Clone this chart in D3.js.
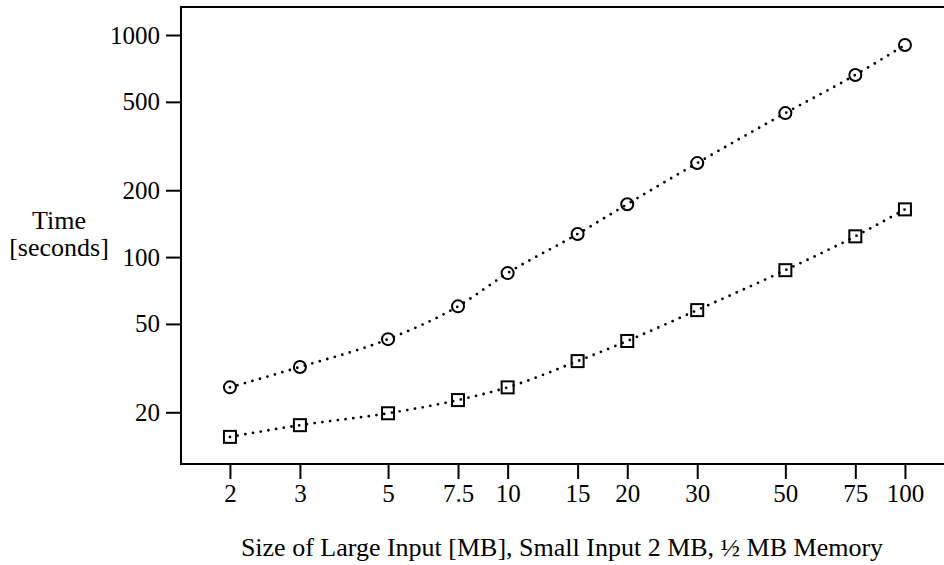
<!DOCTYPE html>
<html>
<head>
<meta charset="utf-8">
<script src="https://cdn.jsdelivr.net/npm/d3@7"></script>
<style>
  body { margin: 0; background: #fff; }
  svg text { font-family: "Liberation Serif", "DejaVu Serif", serif; fill: #000; }
</style>
</head>
<body>
<div id="chart"></div>
<script>
// input sizes (MB), log axis
var sizes = [2, 3, 5, 7.5, 10, 15, 20, 30, 50, 75, 100];
// time in seconds
var circleTimes = [25.9, 32, 42.7, 60, 84.7, 127, 173, 265, 445, 661, 902];
var squareTimes = [15.5, 17.5, 19.8, 22.7, 25.9, 34, 41.9, 57.7, 87.3, 124, 164];
var xTicks = [2, 3, 5, 7.5, 10, 15, 20, 30, 50, 75, 100];
var yTicks = [20, 50, 100, 200, 500, 1000];

var width = 944, height = 565;
var margin = {top: 7, right: -10, bottom: 101, left: 181};

var svg = d3.select("#chart").append("svg")
    .attr("width", width)
    .attr("height", height);

var x = d3.scaleLog()
    .domain([1.506, 125.4])
    .range([margin.left, width]);

var y = d3.scaleLog()
    .domain([11.7, 1337])
    .range([height - margin.bottom, margin.top]);

// frame (right side runs off the page)
svg.append("path")
    .attr("d", "M" + (width + 5) + "," + margin.top + "H" + margin.left +
          "V" + (height - margin.bottom) + "H" + (width + 5))
    .attr("fill", "none")
    .attr("stroke", "#000")
    .attr("stroke-width", 2);

var xAxis = svg.append("g")
    .attr("transform", "translate(0," + (height - margin.bottom) + ")")
    .call(d3.axisBottom(x).tickValues(xTicks).tickFormat(function(d){ return d; })
      .tickSize(15).tickPadding(5));
xAxis.select(".domain").remove();
xAxis.selectAll("line").attr("stroke-width", 2);
xAxis.selectAll("text").style("font-size", "25px").style("font-family", "Liberation Serif");

var yAxis = svg.append("g")
    .attr("transform", "translate(" + margin.left + ",0)")
    .call(d3.axisLeft(y).tickValues(yTicks).tickFormat(function(d){ return d; })
      .tickSize(15).tickPadding(6));
yAxis.select(".domain").remove();
yAxis.selectAll("line").attr("stroke-width", 2);
yAxis.selectAll("text").style("font-size", "25px").style("font-family", "Liberation Serif");

var line = d3.line()
    .x(function(d){ return x(d[0]); })
    .y(function(d){ return y(d[1]); })
    .curve(d3.curveMonotoneX);

function series(vals){
  return sizes.map(function(s, i){ return [s, vals[i]]; });
}

[circleTimes, squareTimes].forEach(function(vals){
  svg.append("path")
      .datum(series(vals))
      .attr("d", line)
      .attr("fill", "none")
      .attr("stroke", "#000")
      .attr("stroke-width", 2.8)
      .attr("stroke-linecap", "round")
      .attr("stroke-dasharray", "0 7.8");
});

svg.append("g").selectAll("circle")
    .data(series(circleTimes))
    .enter().append("circle")
      .attr("cx", function(d){ return x(d[0]); })
      .attr("cy", function(d){ return y(d[1]); })
      .attr("r", 6)
      .attr("fill", "none")
      .attr("stroke", "#000")
      .attr("stroke-width", 2);

svg.append("g").selectAll("rect")
    .data(series(squareTimes))
    .enter().append("rect")
      .attr("x", function(d){ return x(d[0]) - 6; })
      .attr("y", function(d){ return y(d[1]) - 6; })
      .attr("width", 12)
      .attr("height", 12)
      .attr("fill", "none")
      .attr("stroke", "#000")
      .attr("stroke-width", 2);

// axis titles
svg.append("text")
    .attr("x", 59).attr("y", 229)
    .attr("text-anchor", "middle")
    .style("font-size", "26px")
    .text("Time");
svg.append("text")
    .attr("x", 59).attr("y", 256)
    .attr("text-anchor", "middle")
    .style("font-size", "26px")
    .text("[seconds]");

svg.append("text")
    .attr("x", 562).attr("y", 556)
    .attr("text-anchor", "middle")
    .style("font-size", "26px")
    .text("Size of Large Input [MB], Small Input 2 MB, \u00bd MB Memory");
</script>
</body>
</html>
